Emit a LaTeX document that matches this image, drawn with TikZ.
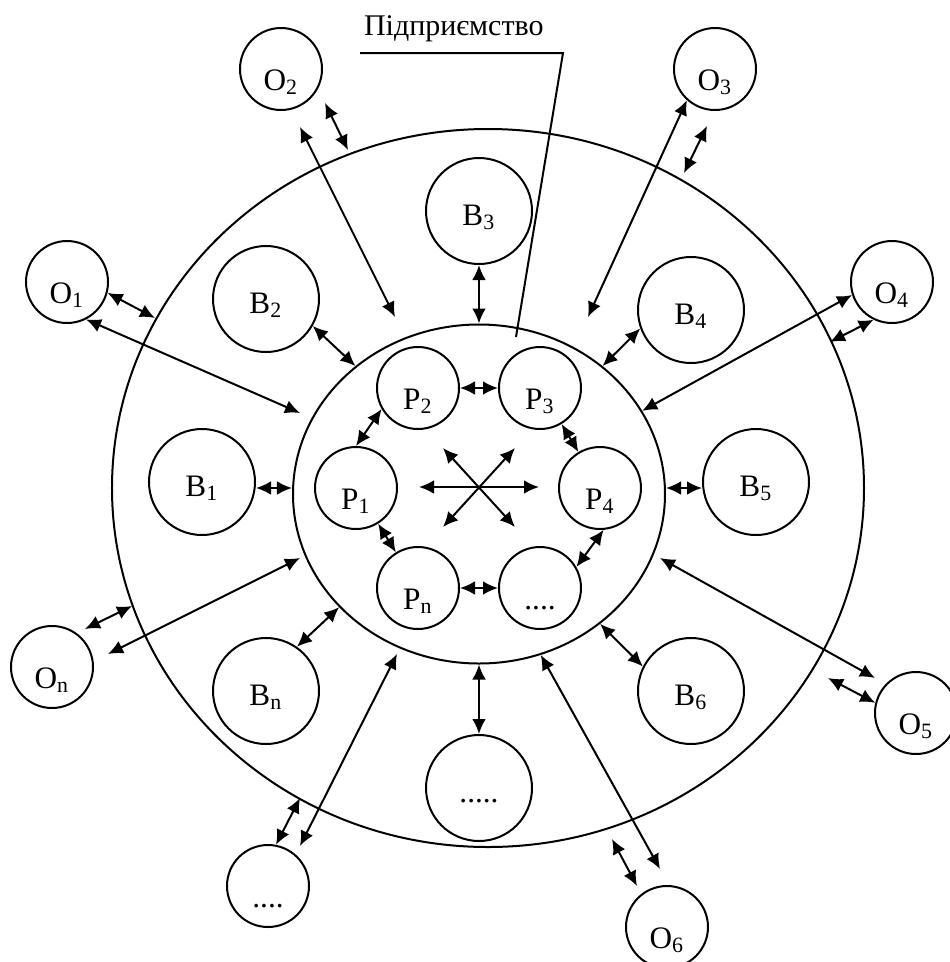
\documentclass[tikz,border=0pt]{standalone}
\usepackage{fontspec}
\setmainfont{Liberation Serif}
\usetikzlibrary{arrows.meta,shapes.geometric}

\begin{document}
\begin{tikzpicture}[x=0.4pt, y=-0.4pt, line width=0.8pt,
		>={Latex[length=6pt,width=5.5pt]},
		smallnode/.style={circle, draw, minimum size=32.8pt, inner sep=0pt,
			text height=16.8pt, text depth=0pt, font=\fontsize{12.5}{14}\selectfont},
		bignode/.style={circle, draw, minimum size=42.4pt, inner sep=0pt,
			text height=11.2pt, text depth=0pt, font=\fontsize{12.5}{14}\selectfont}]
		\useasboundingbox (0,0) rectangle (950,962);
		
		% --- Ellissi ---
		% Ambiente esterno
		\node[ellipse, draw, minimum width=300.8pt, minimum height=287.2pt, inner sep=0pt] (env) at (488,488) {};
		% Impresa
		\node[ellipse, draw, minimum width=148.8pt, minimum height=135.6pt, inner sep=0pt] (firm) at (479,494) {};
		
		% --- Titolo con linea di richiamo ---
		\node[anchor=base west, inner sep=0pt, font=\fontsize{12}{14}\selectfont] (title) at (363,35) {Підприємство};
		\coordinate (ulA) at (360,53);
		\coordinate (ulB) at (563,53);
		\coordinate (ulC) at (516,337);
		\draw (ulA) -- (ulB) -- (ulC);
		
		% --- Nodi P (interni) ---
		\node[smallnode] (P1) at (356,488) {P\textsubscript{1}};
		\node[smallnode] (P2) at (418,388) {P\textsubscript{2}};
		\node[smallnode] (P3) at (540,388) {P\textsubscript{3}};
		\node[smallnode] (P4) at (600,488) {P\textsubscript{4}};
		\node[smallnode] (Pn) at (418,588) {P\textsubscript{n}};
		\node[smallnode] (Pd) at (540,588) {....};
		
		% --- Nodi B (ambiente vicino) ---
		\node[bignode] (B1) at (202,482) {B\textsubscript{1}};
		\node[bignode] (B2) at (266,299) {B\textsubscript{2}};
		\node[bignode] (B3) at (479,211) {B\textsubscript{3}};
		\node[bignode] (B4) at (691,310) {B\textsubscript{4}};
		\node[bignode] (B5) at (756,482) {B\textsubscript{5}};
		\node[bignode] (B6) at (691,691) {B\textsubscript{6}};
		\node[bignode] (Bn) at (266,691) {B\textsubscript{n}};
		\node[bignode] (Bd) at (479,788) {.....};
		
		% --- Nodi O (ambiente lontano) ---
		\node[smallnode] (O1) at (67,282) {O\textsubscript{1}};
		\node[smallnode] (O2) at (281,69) {O\textsubscript{2}};
		\node[smallnode] (O3) at (715,69) {O\textsubscript{3}};
		\node[smallnode] (O4) at (892,282) {O\textsubscript{4}};
		\node[smallnode] (O5) at (916,713) {O\textsubscript{5}};
		\node[smallnode] (O6) at (667,927) {O\textsubscript{6}};
		\node[smallnode] (On) at (52,667) {O\textsubscript{n}};
		\node[smallnode] (Od) at (268,886) {....};
		
		% --- Frecce tra i nodi P ---
		\draw[<->] (P2) -- (P3);
		\draw[<->] (P3) -- (P4);
		\draw[<->] (P4.-85) -- (Pd.30);
		\draw[<->] (Pn) -- (Pd);
		\draw[<->] (P1) -- (Pn);
		\draw[<->] (P1.north) -- (P2.210);
		% Stella centrale
		\coordinate (hubW) at (419,487);
		\coordinate (hubE) at (539,487);
		\coordinate (hubNW) at (443,448);
		\coordinate (hubSE) at (515,527);
		\coordinate (hubNE) at (515,448);
		\coordinate (hubSW) at (443,527);
		\draw[<->] (hubW) -- (hubE);
		\draw[<->] (hubNW) -- (hubSE);
		\draw[<->] (hubNE) -- (hubSW);
		
		% --- Frecce B - impresa ---
		\draw[<->] (B1.east |- P1) -- (firm.west |- P1);
		\draw[<->] (B2.-30) -- (firm.134);
		\draw[<->] (B3) -- (firm);
		\draw[<->] (B4.200) -- (firm.46);
		\draw[<->] (B5.west |- P4) -- (firm.east |- P4);
		\draw[<->] (B6.153) -- (firm.-47);
		\draw[<->] (Bn.55) -- (firm.219);
		\draw[<->] (Bd) -- (firm);
		
		% --- Frecce O ---
		% O1
		\coordinate (o1L) at (300,413);
		\coordinate (o1S) at (155,318);
		\draw[<->] (O1.-63) -- (o1L);
		\draw[<->] (O1.-15) -- (o1S);
		% O2
		\coordinate (o2La) at (300,127);
		\coordinate (o2Lb) at (395,317);
		\coordinate (o2Sa) at (325,103);
		\coordinate (o2Sb) at (348,150);
		\draw[<->] (o2La) -- (o2Lb);
		\draw[<->] (o2Sa) -- (o2Sb);
		% O3
		\coordinate (o3L) at (588,317);
		\coordinate (o3Sa) at (707,126);
		\coordinate (o3Sb) at (684,173);
		\draw[<->] (O3.228) -- (o3L);
		\draw[<->] (o3Sa) -- (o3Sb);
		% O4
		\coordinate (o4S) at (830,342);
		\draw[<->] (O4.198) -- (firm.27);
		\draw[<->] (O4.244) -- (o4S);
		% O5
		\coordinate (o5La) at (660,558);
		\coordinate (o5Lb) at (875,678);
		\coordinate (o5S) at (828,678);
		\draw[<->] (o5La) -- (o5Lb);
		\draw[<->] (o5S) -- (O5.166);
		% O6
		\coordinate (o6L) at (660,869);
		\coordinate (o6Sa) at (612,839);
		\coordinate (o6Sb) at (637,886);
		\draw[<->] (firm.-69) -- (o6L);
		\draw[<->] (o6Sa) -- (o6Sb);
		% O ....
		\coordinate (odLa) at (397,654);
		\coordinate (odLb) at (300,846);
		\coordinate (odS) at (300,798);
		\draw[<->] (odLa) -- (odLb);
		\draw[<->] (odS) -- (Od.79);
		% On
		\coordinate (onLa) at (300,558);
		\coordinate (onLb) at (108,654);
		\coordinate (onSa) at (132,606);
		\coordinate (onSb) at (85,629);
		\draw[<->] (onLa) -- (onLb);
		\draw[<->] (onSa) -- (onSb);
	\end{tikzpicture}
\end{document}
